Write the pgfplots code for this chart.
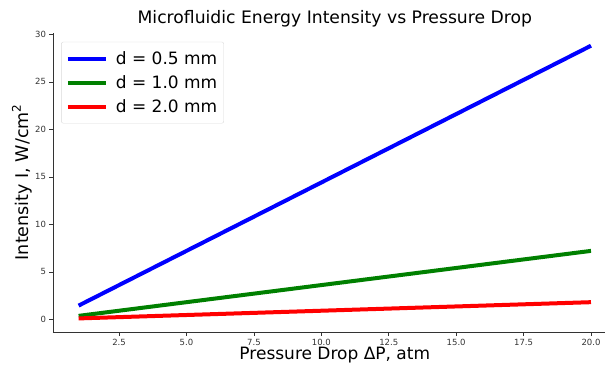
\documentclass[border=0pt]{standalone}
\usepackage{pgfplots}
\pgfplotsset{compat=1.18}
\usepackage{fontspec}
\setmainfont{DejaVu Sans}
\definecolor{mblue}{RGB}{0,0,255}
\definecolor{mgreen}{RGB}{0,128,0}
\definecolor{mred}{RGB}{255,0,0}
\begin{document}
\begin{tikzpicture}
\begin{axis}[
  scale only axis,
  width=563.6pt, height=299.2pt,
  xmin=0.05, xmax=20.95, ymin=-1.34, ymax=30.16,
  axis lines*=left,
  axis line style={black!80, line width=0.6pt},
  xtick={2.5,5,7.5,10,12.5,15,17.5,20},
  ytick={0,5,10,15,20,25,30},
  xticklabel style={/pgf/number format/.cd, fixed, fixed zerofill, precision=1},
  /pgf/number format/assume math mode=true,
  tick label style={font=\fontsize{8.5}{10}\selectfont, text=black!80},
  tick align=outside,
  tick style={black!80, line width=0.5pt},
  major tick length=3.5pt,
  title={Microfluidic Energy Intensity vs Pressure Drop},
  title style={font=\fontsize{17.2}{19}\selectfont, yshift=-4pt},
  xlabel={Pressure Drop ΔP, atm},
  ylabel={Intensity I, W/cm\raisebox{0.45em}{\fontsize{12}{12}\selectfont 2}},
  xlabel style={font=\fontsize{17}{19}\selectfont, at={(axis description cs:0.5,0)}, anchor=north, yshift=-12pt},
  ylabel style={font=\fontsize{17.5}{19}\selectfont, at={(axis description cs:0,0.5)}, anchor=south, yshift=17pt},
  legend style={at={(0.0145,0.97)}, anchor=north west, font=\fontsize{17}{20}\selectfont,
    draw=black!15, rounded corners=2pt, fill=white, inner xsep=4.5pt, inner ysep=7.5pt,
    row sep=5.5pt},
  legend cell align=left,
  legend image code/.code={\draw[#1, line width=4pt] (0pt,0pt) -- (38pt,0pt); \path (44pt,0pt);},
]
\addplot[mblue, line width=4pt] coordinates {(1,1.44) (5,7.2) (10,14.4) (15,21.6) (20,28.8)};
\addlegendentry{d = 0.5 mm}
\addplot[mgreen, line width=4pt] coordinates {(1,0.36) (5,1.8) (10,3.6) (15,5.4) (20,7.2)};
\addlegendentry{d = 1.0 mm}
\addplot[mred, line width=4pt] coordinates {(1,0.09) (5,0.45) (10,0.9) (15,1.35) (20,1.8)};
\addlegendentry{d = 2.0 mm}
\end{axis}
\pgfresetboundingbox
\path[use as bounding box] (-53pt,-33pt) rectangle (552pt,332pt);
\end{tikzpicture}
\end{document}
